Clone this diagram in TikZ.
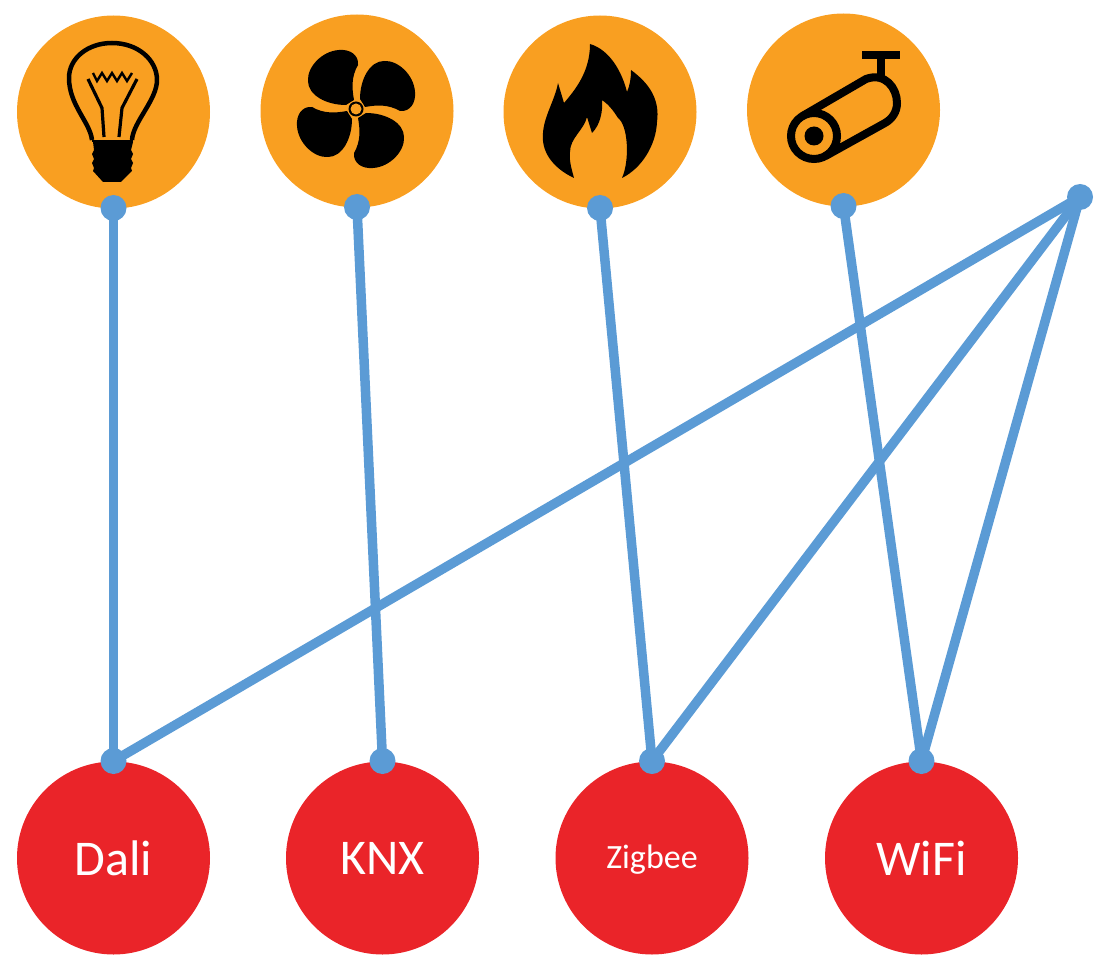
\documentclass[tikz,border=0pt]{standalone}
\usepackage{fontspec}
\setmainfont{Carlito}
\usepackage{tikz}
\usetikzlibrary{positioning}

\definecolor{deviceorange}{HTML}{F99F21}
\definecolor{busred}{HTML}{EA2429}
\definecolor{linkblue}{HTML}{5B9BD5}

\tikzset{
    device/.style={circle, fill=deviceorange, minimum size=193pt, inner sep=0pt},
    bus/.style={circle, fill=busred, minimum size=193pt, inner sep=0pt, text=white, font=\fontsize{50}{54}\selectfont},
    dot/.style={circle, fill=linkblue, minimum size=26pt, inner sep=0pt},
    link/.style={draw=linkblue, line width=9.5pt}
}

\begin{document}
\begin{tikzpicture}[x=1pt, y=-1pt]
    \useasboundingbox (0,0) rectangle (1102,965);

    % Device circles
    \node[device] (bulb) at (113.5,112) {};
    \node[device] (fan) at (357,111) {};
    \node[device] (fire) at (600,112) {};
    \node[device] (camera) at (843.5,110) {};

    % Bus circles
    \node[bus] (dali) at (113.5,858) {Dali};
    \node[bus] (knx) at (382.5,858) {KNX};
    \node[bus, font=\fontsize{34}{38}\selectfont] (zigbee) at (652,858) {\raisebox{-3pt}[0.65em][0.2em]{Zigbee}};
    \node[bus] (wifi) at (921.5,858) {WiFi};

    % Bulb
    \draw[line width=4.5pt, line join=round] (92,140) .. controls (90,122) and (69,105) .. (69,78) .. controls (69,58) and (88,43) .. (112,43) .. controls (138,43) and (157,60) .. (157,80) .. controls (157,100) and (133,122) .. (132,140);
    \draw[line width=2.5pt] (92,141) -- (133,141);
    \fill (93,142) -- (133,142) -- (131,150) -- (133,154) -- (131,159) -- (133,163) -- (131,168) -- (132,171) -- (121,182) -- (103,182) -- (93,171) -- (94,168) -- (92,163) -- (94,159) -- (92,154) -- (94,150) -- cycle;
    \draw[line width=2.4pt] (93,73) -- (97,81) -- (102,73) -- (107,81) -- (112,73) -- (117,81) -- (122,73) -- (127,81) -- (132,73);
    \draw[line width=3.2pt] (88,79) -- (102,108) -- (104,137);
    \draw[line width=3.2pt] (137,79) -- (122,108) -- (119,137);

    % Fan
    \begin{scope}[shift={(356,109)}]
        \foreach \a in {0,90,180,270}
            \fill[rotate=\a] (-2,-9) .. controls (-4,-20) and (-5,-32) .. (2,-44) .. controls (3,-54) and (-6,-60) .. (-17,-59) .. controls (-34,-58) and (-49,-42) .. (-48,-28) .. controls (-48,-14) and (-30,-4) .. (-10,-4) -- cycle;
        \fill[deviceorange] (0,0) circle (8.5);
        \fill (0,0) circle (7.5);
        \fill[deviceorange] (0,0) circle (5.5);
    \end{scope}

    % Fire
    \fill (590,44) .. controls (610,50) and (622,72) .. (627,92) .. controls (630,85) and (631,78) .. (631,70)
        .. controls (650,84) and (660,100) .. (657,122) .. controls (656,145) and (642,168) .. (622,178)
        .. controls (630,160) and (628,125) .. (618,118) .. controls (613,110) and (608,104) .. (602,100)
        .. controls (603,112) and (600,125) .. (592,133) -- (587,117) .. controls (584,130) and (570,138) .. (570,152)
        .. controls (569,162) and (572,170) .. (574,178) .. controls (553,168) and (541,152) .. (543,133)
        .. controls (544,116) and (555,100) .. (558,83) -- (564,103) .. controls (575,90) and (590,72) .. (590,44) -- cycle;

    % Camera
    \fill (862,51) rectangle (900,59);
    \draw[line width=8pt] (881,59) -- (881,78);
    \draw[line width=8pt] (814,136) circle (23);
    \fill (814,136) circle (9.5);
    \draw[line width=8pt, line join=round] (802.5,116) -- (866,79) .. controls (885,72) and (897,88) .. (897,103) .. controls (897,112) and (892,119) .. (885,123) -- (825.5,156);

    % Dots
    \node[dot] (bulbDot) at (113.5,208) {};
    \node[dot] (fanDot) at (357,207) {};
    \node[dot] (fireDot) at (600,208) {};
    \node[dot] (cameraDot) at (843.5,206) {};
    \node[dot] (sharedDot) at (1080,197) {};
    \node[dot] (daliDot) at (113.5,761) {};
    \node[dot] (knxDot) at (382.5,761) {};
    \node[dot] (zigbeeDot) at (652,761) {};
    \node[dot] (wifiDot) at (921.5,761) {};

    % Links
    \draw[link] (bulbDot.center) -- (daliDot.center);
    \draw[link] (fanDot.center) -- (knxDot.center);
    \draw[link] (fireDot.center) -- (zigbeeDot.center);
    \draw[link] (cameraDot.center) -- (wifiDot.center);
    \draw[link] (sharedDot.center) -- (daliDot.center);
    \draw[link] (sharedDot.center) -- (zigbeeDot.center);
    \draw[link] (sharedDot.center) -- (wifiDot.center);
\end{tikzpicture}
\end{document}
